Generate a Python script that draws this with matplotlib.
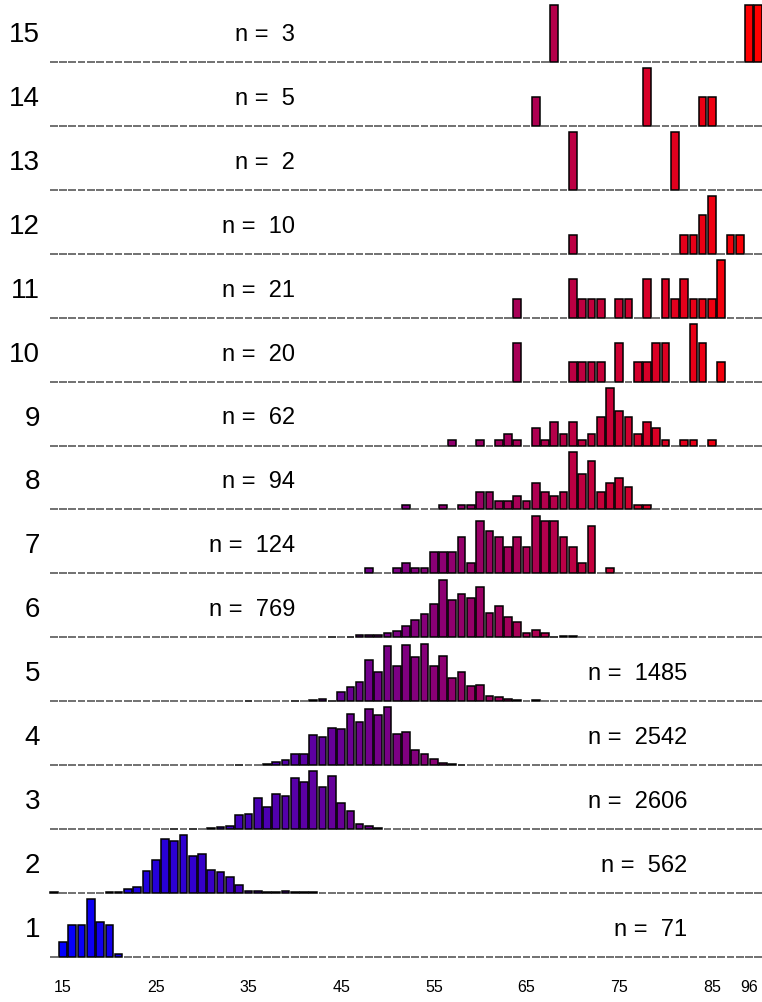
import numpy as np
import matplotlib
matplotlib.use("Agg")
import matplotlib.pyplot as plt
from matplotlib import font_manager

# ---------------- data ----------------
# x categories (ages present in the data, in order)
AGES = list(range(14, 89)) + [96, 98]
TICK_LABELS = ["15", "25", "35", "45", "55", "65", "75", "85", "96"]
ROW_NAMES = [str(i) for i in range(1, 16)]
N_TOTAL = [71, 562, 2606, 2542, 1485, 769, 124, 94, 62, 20, 21, 10, 2, 5, 3]

r1_age = [15, 16, 17, 18, 19, 20, 21]
r1_cnt = [5, 11, 11, 20, 12, 11, 1]

r2_age = [14, 20, 21, 22, 23, 24, 25, 26, 27, 28, 29, 30, 31, 32, 33, 34, 35, 36, 37, 38, 39, 40, 41, 42]
r2_cnt = [1, 1, 1, 5, 9, 32, 48, 79, 77, 85, 54, 58, 34, 31, 23, 12, 2, 3, 1, 1, 2, 1, 1, 1]

r3_age = [27, 29, 31, 32, 33, 34, 35, 36, 37, 38, 39, 40, 41, 42, 43, 44, 45, 46, 47, 48, 49]
r3_cnt = [1, 1, 6, 9, 17, 80, 85, 174, 125, 197, 188, 288, 269, 327, 237, 303, 146, 102, 28, 17, 6]

r4_age = [34, 37, 38, 39, 40, 41, 42, 43, 44, 45, 46, 47, 48, 49, 50, 51, 52, 53, 54, 55, 56, 57, 58]
r4_cnt = [2, 3, 13, 23, 54, 55, 147, 137, 182, 176, 249, 212, 277, 246, 282, 150, 163, 72, 54, 29, 10, 5, 1]

r5_age = [35, 40, 42, 43, 44, 45, 46, 47, 48, 49, 50, 51, 52, 53, 54, 55, 56, 57, 58, 59, 60, 61, 62, 63, 64, 66]
r5_cnt = [1, 1, 2, 5, 1, 24, 39, 53, 112, 81, 151, 96, 153, 122, 158, 96, 125, 63, 79, 41, 45, 13, 11, 7, 4, 2]

r6_age = [44, 46, 47, 48, 49, 50, 51, 52, 53, 54, 55, 56, 57, 58, 59, 60, 61, 62, 63, 64, 65, 66, 67, 68, 69, 70]
r6_cnt = [1, 1, 4, 4, 4, 8, 11, 19, 30, 40, 59, 101, 65, 76, 68, 88, 43, 54, 35, 27, 7, 12, 7, 1, 2, 2]

r7_age = [48, 51, 52, 53, 54, 55, 56, 57, 58, 59, 60, 61, 62, 63, 64, 65, 66, 67, 68, 69, 70, 71, 72, 74]
r7_cnt = [1, 1, 2, 1, 1, 4, 4, 4, 7, 2, 10, 8, 7, 5, 7, 5, 11, 10, 10, 7, 5, 2, 9, 1]

r8_age = [52, 56, 58, 59, 60, 61, 62, 63, 64, 65, 66, 67, 68, 69, 70, 71, 72, 73, 74, 75, 76, 77, 78]
r8_cnt = [1, 1, 1, 1, 4, 4, 2, 2, 3, 2, 6, 4, 3, 4, 13, 8, 11, 4, 6, 7, 5, 1, 1]

r9_age = [57, 60, 62, 63, 64, 66, 67, 68, 69, 70, 71, 72, 73, 74, 75, 76, 77, 78, 79, 80, 82, 83, 85]
r9_cnt = [1, 1, 1, 2, 1, 3, 1, 4, 2, 4, 1, 2, 5, 10, 6, 5, 2, 4, 3, 1, 1, 1, 1]

r10_age = [64, 70, 71, 72, 73, 75, 77, 78, 79, 80, 83, 84, 86]
r10_cnt = [2, 1, 1, 1, 1, 2, 1, 1, 2, 2, 3, 2, 1]

r11_age = [64, 70, 71, 72, 73, 75, 76, 78, 80, 81, 82, 83, 84, 85, 86]
r11_cnt = [1, 2, 1, 1, 1, 1, 1, 2, 2, 1, 2, 1, 1, 1, 3]

r12_age = [70, 82, 83, 84, 85, 87, 88]
r12_cnt = [1, 1, 1, 2, 3, 1, 1]

r13_age = [70, 81]
r13_cnt = [1, 1]

r14_age = [66, 78, 84, 85]
r14_cnt = [1, 2, 1, 1]

r15_age = [68, 96, 98]
r15_cnt = [1, 1, 1]

ROWS_AGE = [r1_age, r2_age, r3_age, r4_age, r5_age, r6_age, r7_age, r8_age,
            r9_age, r10_age, r11_age, r12_age, r13_age, r14_age, r15_age]
ROWS_CNT = [r1_cnt, r2_cnt, r3_cnt, r4_cnt, r5_cnt, r6_cnt, r7_cnt, r8_cnt,
            r9_cnt, r10_cnt, r11_cnt, r12_cnt, r13_cnt, r14_cnt, r15_cnt]

# ---------------- style / layout ----------------
names = {f.name for f in font_manager.fontManager.ttflist}
MAIN_FONT = "Liberation Sans" if "Liberation Sans" in names else "DejaVu Sans"
TICK_FONT = "Liberation Sans Narrow" if "Liberation Sans Narrow" in names else MAIN_FONT
plt.rcParams["font.family"] = [MAIN_FONT, "DejaVu Sans"]

W, H = 762, 1003
fig = plt.figure(figsize=(W / 100, H / 100), dpi=100)
fig.patch.set_facecolor("white")

ROW_H = 63.9            # px between baselines
BASE1 = 957.7           # px (from top) of baseline of row 1
X0 = 14                 # category position of first category
positions = np.arange(len(AGES)) + X0
PX_PER_UNIT = 9.27
X_AT_15 = 63.0
xlim = (15 - X_AT_15 / PX_PER_UNIT, 15 + (W - X_AT_15) / PX_PER_UNIT)

tcol = (positions - positions.min()) / (positions.max() - positions.min())
colors = [(t, 0.0, 1.0 - t) for t in tcol]

axes = []
for k in range(15):
    base = BASE1 - k * ROW_H
    ax = fig.add_axes([0, 1 - base / H, 1, ROW_H / H])
    ax.set_facecolor("none")
    heights = np.zeros(len(AGES))
    for a, c in zip(ROWS_AGE[k], ROWS_CNT[k]):
        heights[AGES.index(a)] = c
    edge = ["black" if h > 0 else "#4a4a4a" for h in heights]
    bars = ax.bar(positions, heights, width=0.83, color=colors,
                  edgecolor=edge, linewidth=1.1)
    for b in bars:
        b.set_clip_on(False)
    ax.set_xlim(*xlim)
    ax.set_ylim(0, heights.max() * 1.111)
    for s in ax.spines.values():
        s.set_visible(False)
    ax.set_yticks([])
    ax.set_xticks([])
    axes.append(ax)

    # row label
    fig.text(40 / W, 1 - (base - 21) / H, ROW_NAMES[k], ha="right",
             va="baseline", fontsize=20, color="black")
    # n label
    xn = 687 if k < 5 else 295
    fig.text(xn / W, 1 - (base - 22) / H, "n =  %d" % N_TOTAL[k],
             ha="right", va="baseline", fontsize=17, color="black")

# x tick labels on bottom row
ax0 = axes[0]
tick_pos = [positions[AGES.index(int(l))] for l in TICK_LABELS]
ax0.set_xticks(tick_pos)
ax0.set_xticklabels(TICK_LABELS, fontsize=11.5, family=TICK_FONT)
ax0.tick_params(axis="x", length=0, pad=16)

fig.savefig("out.png", dpi=100, facecolor="white")
